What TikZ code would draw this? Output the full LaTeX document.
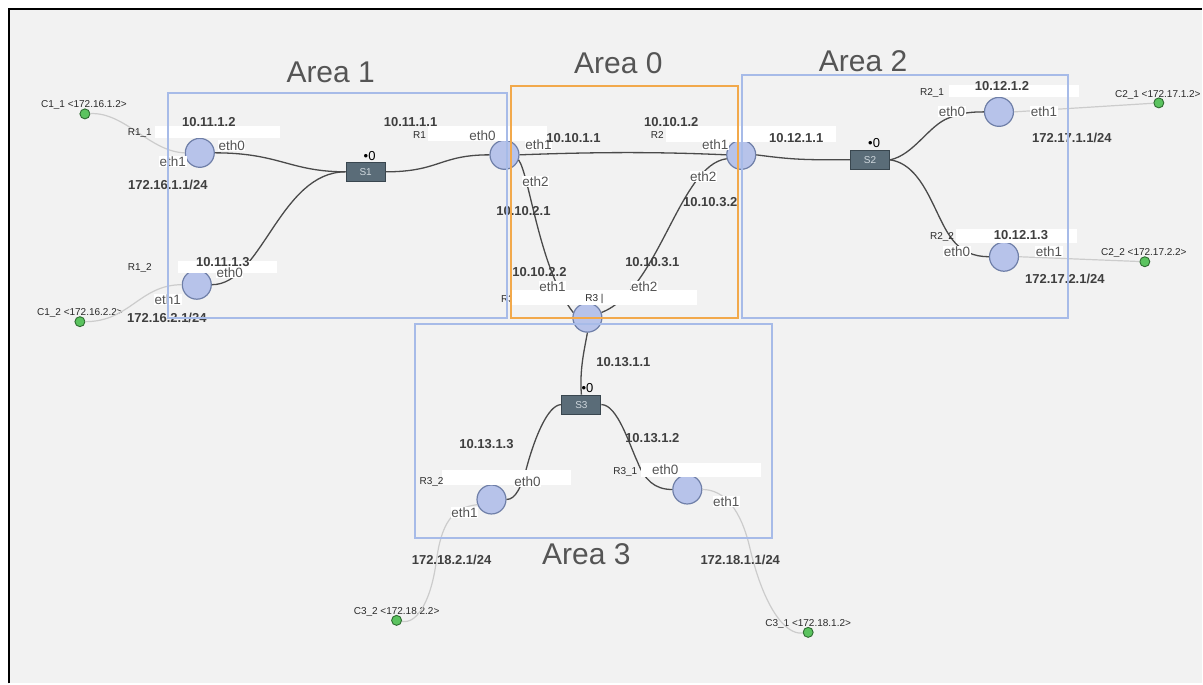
\documentclass[tikz,border=0pt]{standalone}
\usepackage{fontspec}
\setmainfont{Liberation Sans}
\definecolor{paper}{HTML}{F2F2F2}
\definecolor{areablue}{HTML}{A7BBE8}
\definecolor{areaorange}{HTML}{F2A94B}
\definecolor{rtfill}{HTML}{B7C3EA}
\definecolor{rtedge}{HTML}{6F7FA8}
\definecolor{swfill}{HTML}{5A6C78}
\definecolor{swedge}{HTML}{39464F}
\definecolor{swtext}{HTML}{D0D8DE}
\definecolor{pcfill}{HTML}{5BC35F}
\definecolor{pcedge}{HTML}{2E6B31}
\definecolor{wire}{HTML}{4A4A4A}
\definecolor{hostwire}{HTML}{CCCCCC}
\definecolor{ipgray}{HTML}{3F3F3F}
\definecolor{ethgray}{HTML}{555555}
\definecolor{tagblack}{HTML}{2A2A2A}
\definecolor{titlegray}{HTML}{555555}

\begin{document}
\begin{tikzpicture}[x=1pt, y=-1pt,
  router/.style={circle, fill=rtfill, draw=rtedge, line width=1.2pt, minimum size=29pt, inner sep=0pt},
  switch/.style={rectangle, fill=swfill, draw=swedge, line width=1pt, minimum width=39pt, minimum height=19pt, inner sep=0pt, text=swtext, font=\fontsize{10}{10}\selectfont},
  client/.style={circle, fill=pcfill, draw=pcedge, line width=0.9pt, minimum size=10pt, inner sep=0pt},
  link/.style={wire, line width=1.3pt},
  hostlink/.style={hostwire, line width=1.2pt},
  namebox/.style={white},
  ip/.style={font=\fontsize{13}{13}\selectfont\bfseries, text=ipgray, inner sep=0pt},
  eth/.style={font=\fontsize{13.5}{13.5}\selectfont, text=ethgray, fill=white, inner sep=0.6pt},
  tag/.style={font=\fontsize{10}{10}\selectfont, text=tagblack, inner sep=0pt},
  port/.style={font=\fontsize{13}{13}\selectfont, inner sep=0pt},
  area/.style={line width=2pt},
  areatitle/.style={font=\fontsize{30}{30}\selectfont, text=titlegray, inner sep=0pt}]

% Background
\fill[white] (0,0) rectangle (1203,684);
\fill[paper] (9,9) rectangle (1203,684);
\draw[black, line width=2.5pt] (9,684) -- (9,9) -- (1203,9);
\useasboundingbox (0,0) rectangle (1203,684);

% Routers
\node[router] (r11) at (200,153) {};
\node[router] (r12) at (197,285) {};
\node[router] (r1) at (505,155) {};
\node[router] (r2) at (742,155) {};
\node[router] (r3) at (588,318) {};
\node[router] (r21) at (1000,112) {};
\node[router] (r22) at (1005,257) {};
\node[router] (r32) at (492,500) {};
\node[router] (r31) at (688,490) {};

% Switches
\node[switch] (s1) at (366,172) {S1};
\node[switch] (s2) at (871,160) {S2};
\node[switch] (s3) at (582,405) {S3};
\node[port] (p1) at (370,156) {\textbullet 0};
\node[port] (p2) at (875,143) {\textbullet 0};
\node[port] (p3) at (588,388) {\textbullet 0};

% Clients (label first, dot on top)
\node[tag] (h11) at (84,105) {C1\_1 <172.16.1.2>};
\node[tag] (h12) at (80,313) {C1\_2 <172.16.2.2>};
\node[tag] (h21) at (1159,95) {C2\_1 <172.17.1.2>};
\node[tag] (h22) at (1145,253) {C2\_2 <172.17.2.2>};
\node[tag] (h32) at (397,613) {C3\_2 <172.18.2.2>};
\node[tag] (h31) at (809,625) {C3\_1 <172.18.1.2>};
\node[client] (c11) at (85,114) {};
\node[client] (c12) at (80,322) {};
\node[client] (c21) at (1160,103) {};
\node[client] (c22) at (1146,262) {};
\node[client] (c32) at (397,621) {};
\node[client] (c31) at (809,633) {};

% Host links
\draw[hostlink] (c11) .. controls (125,112) and (150,152) .. (r11.west);
\draw[hostlink] (c12) .. controls (130,322) and (140,285) .. (r12.west);
\draw[hostlink] (r21.east) -- (c21);
\draw[hostlink] (r22.east) -- (c22);
\draw[hostlink] (r32.200) .. controls (452,508) and (442,525) .. (437,560) .. controls (432,600) and (418,625) .. (c32);
\draw[hostlink] (r31.east) .. controls (725,490) and (742,510) .. (751,550) .. controls (764,605) and (785,636) .. (c31);

% Links
\draw[link] (r11.east) .. controls (280,153) and (290,172) .. (s1.west);
\draw[link] (r12.east) .. controls (262,285) and (280,172) .. (s1.west);
\draw[link] (s1.east) .. controls (440,172) and (440,155) .. (r1.west);
\draw[link] (r1.east) .. controls (600,152) and (660,152) .. (r2.west);
\draw[link] (r1.-20) .. controls (530,175) and (540,270) .. (r3.160);
\draw[link] (r2.195) .. controls (680,165) and (660,290) .. (r3.20);
\draw[link] (r3.south) .. controls (585,350) and (580,370) .. (s3.north);
\draw[link] (r2.east) .. controls (795,160) and (805,160) .. (s2.west);
\draw[link] (s2.east) .. controls (915,155) and (930,125) .. (950,118) .. controls (962,113) and (972,112) .. (r21.west);
\draw[link] (s2.east) .. controls (925,165) and (935,215) .. (952,238) .. controls (962,252) and (975,257) .. (r22.west);
\draw[link] (s3.west) .. controls (548,405) and (535,440) .. (528,465) .. controls (522,488) and (516,500) .. (r32.east);
\draw[link] (s3.east) .. controls (618,405) and (630,445) .. (638,462) .. controls (645,480) and (655,490) .. (r31.west);

% Name boxes
\node[tag] (n3b) at (508,299) {R3};
\fill[namebox] (155,126) rectangle (280,138);
\fill[namebox] (178,261) rectangle (277,273);
\fill[namebox] (428,126) rectangle (548,141);
\fill[namebox] (667,126) rectangle (837,142);
\fill[namebox] (513,290) rectangle (698,305);
\fill[namebox] (950,85) rectangle (1080,97);
\fill[namebox] (957,229) rectangle (1078,243);
\fill[namebox] (442,470) rectangle (572,485);
\fill[namebox] (642,463) rectangle (762,477);

% Interface labels
\node[eth] (e11a) at (232,146) {eth0};
\node[eth] (e11b) at (173,162) {eth1};
\node[eth] (e12a) at (230,273) {eth0};
\node[eth] (e12b) at (168,300) {eth1};
\node[eth] (e1a) at (483,136) {eth0};
\node[eth] (e1b) at (539,145) {eth1};
\node[eth] (e1c) at (536,182) {eth2};
\node[eth] (e2b) at (716,145) {eth1};
\node[eth] (e2c) at (704,177) {eth2};
\node[eth] (e3b) at (553,287) {eth1};
\node[eth] (e3c) at (645,287) {eth2};
\node[eth] (e21a) at (953,112) {eth0};
\node[eth] (e21b) at (1045,112) {eth1};
\node[eth] (e22a) at (958,252) {eth0};
\node[eth] (e22b) at (1050,252) {eth1};
\node[eth] (e32a) at (528,482) {eth0};
\node[eth] (e32b) at (465,513) {eth1};
\node[eth] (e31a) at (666,470) {eth0};
\node[eth] (e31b) at (727,502) {eth1};

% Router names
\node[tag] (n11) at (140,133) {R1\_1};
\node[tag] (n12) at (140,268) {R1\_2};
\node[tag] (n1) at (420,135) {R1};
\node[tag] (n2) at (658,135) {R2};
\node[tag] (n3) at (595,299) {R3 |};
\node[tag] (n21) at (933,93) {R2\_1};
\node[tag] (n22) at (943,237) {R2\_2};
\node[tag] (n32) at (432,482) {R3\_2};
\node[tag] (n31) at (626,472) {R3\_1};

% Addresses
\node[ip] (a11) at (209,122) {10.11.1.2};
\node[ip] (l11) at (168,185) {172.16.1.1/24};
\node[ip] (a12) at (223,262) {10.11.1.3};
\node[ip] (l12) at (167,318) {172.16.2.1/24};
\node[ip] (a1s) at (411,122) {10.11.1.1};
\node[ip] (a1r2) at (574,138) {10.10.1.1};
\node[ip] (a2r1) at (672,122) {10.10.1.2};
\node[ip] (a1r3) at (524,211) {10.10.2.1};
\node[ip] (a2r3) at (711,202) {10.10.3.2};
\node[ip] (a3r1) at (540,272) {10.10.2.2};
\node[ip] (a3r2) at (653,262) {10.10.3.1};
\node[ip] (a2s) at (797,138) {10.12.1.1};
\node[ip] (a21) at (1003,86) {10.12.1.2};
\node[ip] (l21) at (1073,138) {172.17.1.1/24};
\node[ip] (a22) at (1022,235) {10.12.1.3};
\node[ip] (l22) at (1066,279) {172.17.2.1/24};
\node[ip] (a3s) at (624,362) {10.13.1.1};
\node[ip] (a32) at (487,444) {10.13.1.3};
\node[ip] (a31) at (653,438) {10.13.1.2};
\node[ip] (l32) at (452,560) {172.18.2.1/24};
\node[ip] (l31) at (741,560) {172.18.1.1/24};

% Areas
\draw[areablue, area] (168,93) rectangle (508,318);
\draw[areaorange, area] (512,86) rectangle (739,318);
\draw[areablue, area] (743,75) rectangle (1069,318);
\draw[areablue, area] (415,324) rectangle (773,539);
\node[areatitle] (t1) at (331,72) {Area 1};
\node[areatitle] (t0) at (619,63) {Area 0};
\node[areatitle] (t2) at (864,61) {Area 2};
\node[areatitle] (t3) at (587,555) {Area 3};

\end{tikzpicture}
\end{document}
